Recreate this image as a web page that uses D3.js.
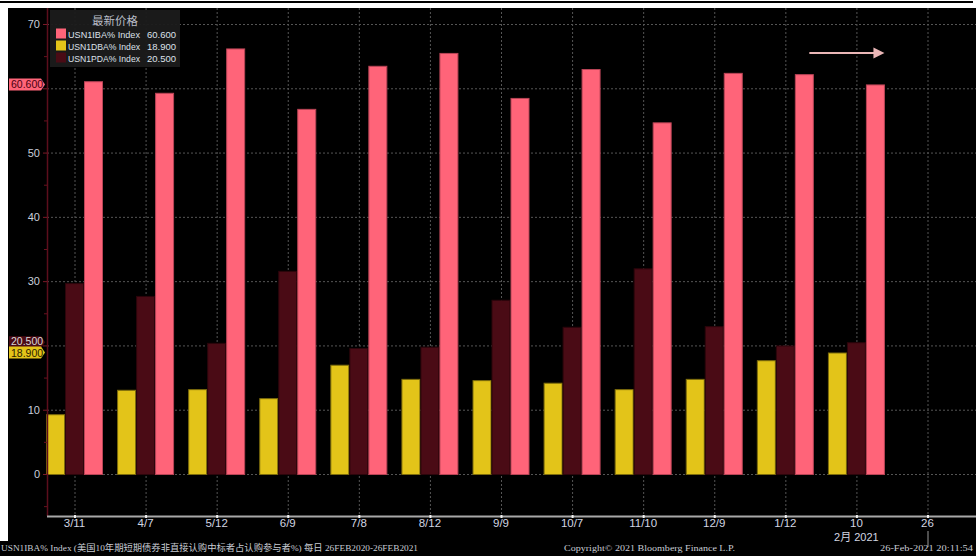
<!DOCTYPE html>
<html><head><meta charset="utf-8">
<script src="https://cdn.jsdelivr.net/npm/d3@7"></script>
<style>
html,body{margin:0;padding:0;background:#fff;}
svg{display:block;}
</style></head>
<body>
<script>
const categories = ["3/11","4/7","5/12","6/9","7/8","8/12","9/9","10/7","11/10","12/9","1/12","10","26"];
const seriesNames = ["USN1DBA% Index","USN1PDA% Index","USN1IBA% Index"];
const yellowVals = [9.3, 13.1, 13.2, 11.8, 17.0, 14.8, 14.6, 14.2, 13.2, 14.8, 17.7, 18.9, null];
const darkVals   = [29.7, 27.7, 20.4, 31.6, 19.6, 19.8, 27.1, 22.9, 32.0, 23.0, 20.0, 20.5, null];
const pinkVals   = [61.1, 59.3, 66.2, 56.8, 63.5, 65.5, 58.5, 63.0, 54.7, 62.4, 62.2, 60.6, null];
const yTicks = [0,10,20,30,40,50,60,70];
const yMinor = [-5,5,15,25,35,45,55,65];
const legendTitle = "最新价格";
const lastValues = ["60.600","18.900","20.500"];
const footerLeft = "USN1IBA% Index (美国10年期短期债券非直接认购中标者占认购参与者%)  每日 26FEB2020-26FEB2021";
const footerMid = "Copyright© 2021 Bloomberg Finance L.P.";
const footerRight = "26-Feb-2021 20:11:54";
const yearLabel = "2月 2021";

(function(){
const W=976,H=556;
const svg=d3.select("body").append("svg").attr("width",W).attr("height",H);
svg.append("rect").attr("x",0).attr("y",0).attr("width",W).attr("height",H).attr("fill","#fff");
svg.append("rect").attr("x",0).attr("y",1).attr("width",973).attr("height",2).attr("fill","#000");
svg.append("rect").attr("x",8).attr("y",8).attr("width",W-8).attr("height",H-8).attr("fill","#000");
svg.append("rect").attr("x",0).attr("y",541).attr("width",W).attr("height",15).attr("fill","#000");

const x=d3.scalePoint().domain(categories).range([74.5,927.5]);
const y=d3.scaleLinear().domain([0,70]).range([474,24]);
const inner=d3.scaleBand().domain(seriesNames).range([-28.5,28.5]).padding(0);
const axisX=47, axisY=516, rightEdge=976, topEdge=8;

const colors={"USN1DBA% Index":"#e3c419","USN1PDA% Index":"#4a0b15","USN1IBA% Index":"#ff6479"};
const strokes={"USN1DBA% Index":"#7d6c0c","USN1PDA% Index":"#2c050b","USN1IBA% Index":"#b84456"};

const g=svg.append("g");
g.selectAll(".hg").data(yTicks).enter().append("line")
 .attr("x1",axisX).attr("x2",rightEdge).attr("y1",d=>y(d)+0.5).attr("y2",d=>y(d)+0.5)
 .attr("stroke","#555").attr("stroke-width",1).attr("stroke-dasharray","2,2");
g.selectAll(".vg").data(categories).enter().append("line")
 .attr("x1",d=>x(d)+0.5).attr("x2",d=>x(d)+0.5).attr("y1",topEdge).attr("y2",axisY)
 .attr("stroke","#555").attr("stroke-width",1).attr("stroke-dasharray","2,2");

const series=[["USN1DBA% Index",yellowVals],["USN1PDA% Index",darkVals],["USN1IBA% Index",pinkVals]];
series.forEach(([name,vals])=>{
  svg.append("g").selectAll("rect").data(categories.map((c,i)=>({c,v:vals[i]})).filter(d=>d.v!=null))
   .enter().append("rect")
   .attr("x",d=>x(d.c)+inner(name)+0.5)
   .attr("width",inner.bandwidth()-1)
   .attr("y",d=>y(d.v)+0.5)
   .attr("height",d=>y(0)-y(d.v))
   .attr("fill",colors[name]).attr("stroke",strokes[name]).attr("stroke-width",1);
});

svg.append("line").attr("x1",axisX+0.5).attr("x2",axisX+0.5).attr("y1",topEdge).attr("y2",axisY)
 .attr("stroke","#5c0e1c").attr("stroke-width",1.5);
svg.selectAll(".ytk").data(yTicks).enter().append("line")
 .attr("x1",axisX-4).attr("x2",axisX).attr("y1",d=>y(d)+0.5).attr("y2",d=>y(d)+0.5)
 .attr("stroke","#7a1a28").attr("stroke-width",1);
svg.selectAll(".ymn").data(yMinor).enter().append("line")
 .attr("x1",axisX-3).attr("x2",axisX).attr("y1",d=>y(d)+0.5).attr("y2",d=>y(d)+0.5)
 .attr("stroke","#6a1220").attr("stroke-width",1);
const pennantVals=[60.6,20.5,18.9];
svg.selectAll(".ylab").data(yTicks.filter(t=>pennantVals.every(p=>Math.abs(y(p)-y(t))>9))).enter().append("text")
 .attr("x",40).attr("y",d=>y(d)+4).attr("text-anchor","end")
 .attr("font-family","Liberation Sans, Arial, sans-serif").attr("font-size",11)
 .attr("fill","#c9cedb").text(d=>d);

svg.append("line").attr("x1",axisX).attr("x2",rightEdge).attr("y1",axisY+0.5).attr("y2",axisY+0.5)
 .attr("stroke","#a8a8a8").attr("stroke-width",2);
svg.selectAll(".xtk").data(categories).enter().append("rect")
 .attr("x",d=>x(d)-0.5).attr("y",axisY-1).attr("width",2).attr("height",3).attr("fill","#f0f0f0");
svg.selectAll(".xlab").data(categories).enter().append("text")
 .attr("x",d=>x(d)).attr("y",527).attr("text-anchor","middle")
 .attr("font-family","Liberation Sans, Arial, sans-serif").attr("font-size",11.5)
 .attr("fill","#d2d6e2").text(d=>d);
svg.append("text").attr("x",x("10")).attr("y",541).attr("text-anchor","middle")
 .attr("font-family","Liberation Sans, 'Noto Sans CJK SC', sans-serif").attr("font-size",11)
 .attr("fill","#d2d6e2").text(yearLabel);
svg.append("line").attr("x1",x("26")+0.5).attr("x2",x("26")+0.5).attr("y1",531).attr("y2",547)
 .attr("stroke","#9a9a9a").attr("stroke-width",1);

function pennant(val,fill,txtFill,label,dy){
  const cy=y(val);
  const gp=svg.append("g");
  gp.append("path").attr("d",`M9,${cy-6} L41,${cy-6} L45,${cy} L41,${cy+6} L9,${cy+6} Z`)
   .attr("fill",fill);
  gp.append("text").attr("x",11).attr("y",cy+dy).attr("font-family","Liberation Sans, Arial, sans-serif")
   .attr("font-size",10.5).attr("fill",txtFill).text(label);
}
pennant(60.6,"#ff6479","#4a0010",lastValues[0],4);
pennant(20.5,"#4a0b15","#d8d8d8",lastValues[2],3);
pennant(18.9,"#e3c419","#2a2000",lastValues[1],4.5);

const lg=svg.append("g");
lg.append("rect").attr("x",50).attr("y",10).attr("width",130).attr("height",57).attr("fill","#1b1b1b").attr("opacity",0.95);
lg.append("text").attr("x",115).attr("y",25).attr("text-anchor","middle")
 .attr("font-family","'Noto Sans CJK SC', sans-serif").attr("font-size",11.5).attr("fill","#b8bcc6").text(legendTitle);
const legendRows=[["USN1IBA% Index","#ff6479",lastValues[0]],["USN1DBA% Index","#e3c419",lastValues[1]],["USN1PDA% Index","#4a0b15",lastValues[2]]];
legendRows.forEach((r,i)=>{
  const cy=33.5+i*12;
  lg.append("rect").attr("x",56).attr("y",cy-5).attr("width",10).attr("height",10).attr("fill",r[1]);
  lg.append("text").attr("x",68).attr("y",cy+4).attr("font-family","Liberation Sans, Arial, sans-serif")
   .attr("font-size",9.5).attr("fill","#dde1ea").attr("textLength",72).attr("lengthAdjust","spacingAndGlyphs").text(r[0]);
  lg.append("text").attr("x",176).attr("y",cy+4).attr("text-anchor","end").attr("font-family","Liberation Sans, Arial, sans-serif")
   .attr("font-size",9.5).attr("fill","#dde1ea").text(r[2]);
});

const ay=y(65.5);
const ax1=x("1/12")+24, ax2=x("10")+28;
svg.append("line").attr("x1",ax1).attr("x2",ax2-10).attr("y1",ay).attr("y2",ay).attr("stroke","#eab6b6").attr("stroke-width",2);
svg.append("path").attr("d",`M${ax2-11},${ay-5.5} L${ax2},${ay} L${ax2-11},${ay+5.5} Z`).attr("fill","#eab6b6");

const ff="Liberation Serif, 'Noto Sans CJK SC', serif";
svg.append("text").attr("x",1).attr("y",551).attr("font-family",ff).attr("font-size",9).attr("fill","#c8ccd4")
 .attr("textLength",417).attr("lengthAdjust","spacingAndGlyphs").text(footerLeft);
svg.append("text").attr("x",564).attr("y",551).attr("font-family",ff).attr("font-size",9).attr("fill","#c8ccd4")
 .attr("textLength",171).attr("lengthAdjust","spacingAndGlyphs").text(footerMid);
svg.append("text").attr("x",880).attr("y",551).attr("font-family",ff).attr("font-size",9).attr("fill","#c8ccd4")
 .attr("textLength",93).attr("lengthAdjust","spacingAndGlyphs").text(footerRight);
})();
</script>
</body></html>
